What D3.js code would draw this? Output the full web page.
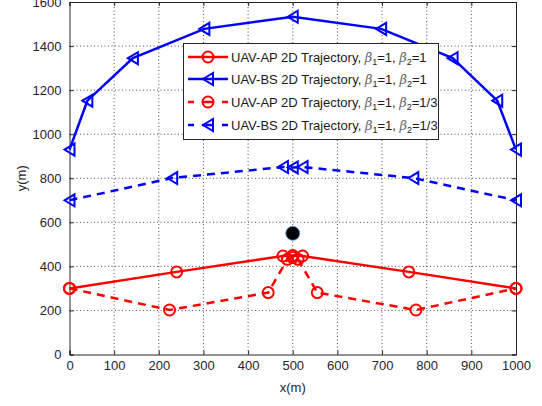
<!DOCTYPE html>
<html><head><meta charset="utf-8">
<script src="https://d3js.org/d3.v7.min.js"></script>
<style>body{margin:0;background:#fff;} svg{display:block;}</style>
</head><body>
<script>
const xTicks = [0,100,200,300,400,500,600,700,800,900,1000];
const yTicks = [0,200,400,600,800,1000,1200,1400,1600];
const apSolidX = [0,240,478,500,522,760,1000];
const apSolidY = [300,375,447,449,447,375,300];
const bsSolidX = [0,40,142,302,500,698,858,958,1000];
const bsSolidY = [930,1152,1345,1478,1533,1478,1345,1152,930];
const apDashX = [0,224,445,488,500,512,555,776,1000];
const apDashY = [300,202,281,432,440,432,281,202,300];
const bsDashX = [0,230,478,500,522,770,1000];
const bsDashY = [700,801,851,849,851,801,700];
const centerPt = [500,550];
const legendLabels = [
  {base:"UAV-AP 2D Trajectory, ", b2:"1"},
  {base:"UAV-BS 2D Trajectory, ", b2:"1"},
  {base:"UAV-AP 2D Trajectory, ", b2:"1/3"},
  {base:"UAV-BS 2D Trajectory, ", b2:"1/3"}
];

const W=542,H=406;
const svg=d3.select("body").append("svg").attr("width",W).attr("height",H);
const x=d3.scaleLinear().domain([0,1000]).range([69.5,516]);
const y=d3.scaleLinear().domain([0,1600]).range([354.5,2]);
const font="'Liberation Sans', Arial, Helvetica, sans-serif";
const fmt=d3.format("d");

// grid
const g=svg.append("g");
xTicks.slice(1,-1).forEach(t=>g.append("line").attr("x1",x(t)).attr("x2",x(t)).attr("y1",y(0)).attr("y2",y(1600))
  .attr("stroke","#262626").attr("stroke-width",0.8).attr("stroke-dasharray","1,2.5"));
yTicks.slice(1,-1).forEach(t=>g.append("line").attr("x1",x(0)).attr("x2",x(1000)).attr("y1",y(t)).attr("y2",y(t))
  .attr("stroke","#262626").attr("stroke-width",0.8).attr("stroke-dasharray","1,2.5"));

// axes
const xa=svg.append("g").attr("transform",`translate(0,${y(0)})`).call(d3.axisBottom(x).tickValues(xTicks).tickFormat(fmt).tickSize(-4).tickPadding(6));
const xt=svg.append("g").attr("transform",`translate(0,${y(1600)})`).call(d3.axisTop(x).tickValues(xTicks).tickSize(-4).tickFormat(""));
const ya=svg.append("g").attr("transform",`translate(${x(0)},0)`).call(d3.axisLeft(y).tickValues(yTicks).tickFormat(fmt).tickSize(-4).tickPadding(8));
const yr=svg.append("g").attr("transform",`translate(${x(1000)},0)`).call(d3.axisRight(y).tickValues(yTicks).tickSize(-4).tickFormat(""));
[xa,xt,ya,yr].forEach(a=>{a.selectAll("path").attr("stroke","#262626").attr("stroke-width",1);
  a.selectAll("line").attr("stroke","#262626");
  a.selectAll("text").attr("fill","#262626").style("font-family",font).style("font-size","13px");});

svg.append("text").attr("x",(x(0)+x(1000))/2).attr("y",392).attr("text-anchor","middle")
  .style("font-family",font).style("font-size","13px").attr("fill","#262626").text("x(m)");
svg.append("text").attr("transform",`translate(26,${(y(0)+y(1600))/2}) rotate(-90)`).attr("text-anchor","middle")
  .style("font-family",font).style("font-size","13px").attr("fill","#262626").text("y(m)");

const line=d3.line().x(d=>x(d[0])).y(d=>y(d[1]));
const zip=(a,b)=>a.map((v,i)=>[v,b[i]]);
const dash="8,6";
function circle(sel,cx,cy,col){sel.append("circle").attr("cx",cx).attr("cy",cy).attr("r",5.5).attr("fill","none").attr("stroke",col).attr("stroke-width",2);}
function tri(sel,cx,cy,col){sel.append("path").attr("d",`M${cx-5},${cy} L${cx+5},${cy-6} L${cx+5},${cy+6} Z`).attr("fill","none").attr("stroke",col).attr("stroke-width",2);}

function series(xs,ys,col,dashed,marker){
  const pts=zip(xs,ys);
  const s=svg.append("g");
  s.append("path").attr("d",line(pts)).attr("fill","none").attr("stroke",col).attr("stroke-width",2.5)
   .attr("stroke-dasharray",dashed?dash:null);
  pts.forEach(p=>marker(s,x(p[0]),y(p[1]),col));
}
series(bsSolidX,bsSolidY,"#0000ff",false,tri);
series(bsDashX,bsDashY,"#0000ff",true,tri);
series(apSolidX,apSolidY,"#ff0000",false,circle);
series(apDashX,apDashY,"#ff0000",true,circle);

svg.append("circle").attr("cx",x(centerPt[0])).attr("cy",y(centerPt[1])).attr("r",7).attr("fill","#000")
  .attr("stroke","#4aa3df").attr("stroke-width",0.8);

// legend
const L=svg.append("g");
L.append("rect").attr("x",183.5).attr("y",43.5).attr("width",255).attr("height",96).attr("fill","#fff")
  .attr("stroke","#262626").attr("stroke-width",1);
const ly=[57,79,102,125];
const styles=[["#ff0000",false,circle],["#0000ff",false,tri],["#ff0000",true,circle],["#0000ff",true,tri]];
legendLabels.forEach((lab,i)=>{
  const [col,dashed,mk]=styles[i];
  const yy=ly[i];
  L.append("line").attr("x1",188).attr("x2",228).attr("y1",yy).attr("y2",yy).attr("stroke",col).attr("stroke-width",2.5)
   .attr("stroke-dasharray",dashed?"6,8,12,8,6":null);
  mk(L,208,yy,col);
  const t=L.append("text").attr("x",231).attr("y",yy+4.5).style("font-family",font).style("font-size","13px").attr("fill","#1a1a1a");
  t.append("tspan").text(lab.base);
  t.append("tspan").style("font-style","italic").style("font-family","'DejaVu Serif', serif").attr("fill","#666").text("β");
  t.append("tspan").attr("dy",3).style("font-size","9px").text("1");
  t.append("tspan").attr("dy",-3).text("=1, ");
  t.append("tspan").style("font-style","italic").style("font-family","'DejaVu Serif', serif").attr("fill","#666").text("β");
  t.append("tspan").attr("dy",3).style("font-size","9px").text("2");
  t.append("tspan").attr("dy",-3).text("="+lab.b2);
});
</script>
</body></html>
